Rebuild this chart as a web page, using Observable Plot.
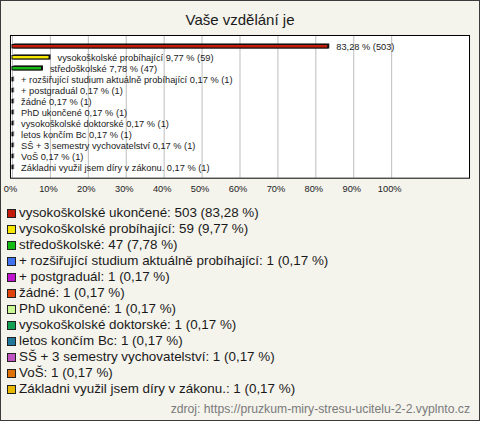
<!DOCTYPE html>
<html><head><meta charset="utf-8">
<script src="https://cdn.jsdelivr.net/npm/d3@7"></script>
<script src="https://cdn.jsdelivr.net/npm/@observablehq/plot@0.6"></script>
<style>
html,body{margin:0;padding:0;background:#fff;}
#wrap{position:relative;box-sizing:border-box;width:480px;height:421px;border:1px solid #3a3a3a;background:#f4f3ec;font-family:"Liberation Sans",Arial,sans-serif;color:#1a1a1a;overflow:hidden;}
#title{position:absolute;left:0;top:9px;width:478px;text-align:center;font-size:15px;line-height:20px;}
#plot{position:absolute;left:-1px;top:29px;}
#legend{position:absolute;left:6px;top:204px;font-size:13.4px;}
.row{height:16px;line-height:16px;display:flex;align-items:center;white-space:nowrap;}
.sw{width:7px;height:7px;border:1px solid #222;margin-right:3px;flex:none;}
#cap{position:absolute;right:9px;top:401px;font-size:12.2px;color:#7a7a7a;line-height:14px;}
</style></head>
<body>
<div id="wrap">
<div id="title">Vaše vzdělání je</div>
<div id="plot"></div>
<div id="legend"></div>
<div id="cap">zdroj: https://pruzkum-miry-stresu-ucitelu-2-2.vyplnto.cz</div>
</div>
<script>
const categories = [
  "vysokoškolské ukončené",
  "vysokoškolské probíhající",
  "středoškolské",
  "+ rozšiřující studium aktuálně probíhající",
  "+ postgraduál",
  "žádné",
  "PhD ukončené",
  "vysokoškolské doktorské",
  "letos končím Bc",
  "SŠ + 3 semestry vychovatelství",
  "VoŠ",
  "Základni využil jsem díry v zákonu."
];
const counts = [503, 59, 47, 1, 1, 1, 1, 1, 1, 1, 1, 1];
const percents = [83.28, 9.77, 7.78, 0.17, 0.17, 0.17, 0.17, 0.17, 0.17, 0.17, 0.17, 0.17];
const colors = ["#c41c0a", "#f6e600", "#14bc14", "#4272ee", "#c014d0", "#e0440a", "#caf894", "#12a052", "#22789a", "#c052c2", "#e0720a", "#e8b800"];
const xTicks = [0, 10, 20, 30, 40, 50, 60, 70, 80, 90, 100];

const fmt = v => v.toFixed(2).replace(".", ",");
const data = categories.map((c, i) => ({cat: c, n: counts[i], pct: percents[i], color: colors[i],
  label: (i === 0 ? "" : c + " ") + fmt(percents[i]) + " % (" + counts[i] + ")"}));

const chart = Plot.plot({
  width: 480, height: 170,
  marginLeft: 10, marginRight: 10, marginTop: 5, marginBottom: 22,
  style: {fontFamily: "Liberation Sans, Arial, sans-serif", fontSize: "9px", background: "transparent", color: "#222"},
  x: {domain: [-0.526, 120.53], axis: null},
  y: {domain: categories, padding: 0, axis: null},
  marks: [
    Plot.frame({fill: "white", stroke: null}),
    Plot.gridX(xTicks, {stroke: "#bdbdbd", strokeOpacity: 1}),
    Plot.barX(data, {x1: 0, x2: "pct", y: "cat", fill: "#111", insetTop: 3, insetBottom: 3, dx: 1.5, dy: -0.5}),
    Plot.barX(data, {x1: 0, x2: "pct", y: "cat", fill: "color", stroke: "#111", strokeWidth: 1, insetTop: 3.5, insetBottom: 4}),
    Plot.text(data, {x: "pct", y: "cat", text: "label", dx: 8, textAnchor: "start", fill: "#1a1a1a", fontSize: 9.3}),
    Plot.axisX(xTicks, {label: null, tickSize: 0, tickPadding: 7, tickFormat: d => d + "%", dx: -2, fontSize: 9.3, fill: "#222"}),
    Plot.frame({stroke: "#000", strokeWidth: 1})
  ]
});
document.getElementById("plot").appendChild(chart);

const leg = document.getElementById("legend");
data.forEach(d => {
  const r = document.createElement("div");
  r.className = "row";
  const s = document.createElement("span");
  s.className = "sw"; s.style.background = d.color;
  const t = document.createElement("span");
  t.textContent = d.cat + ": " + d.n + " (" + fmt(d.pct) + " %)";
  r.appendChild(s); r.appendChild(t);
  leg.appendChild(r);
});
</script>
</body></html>
